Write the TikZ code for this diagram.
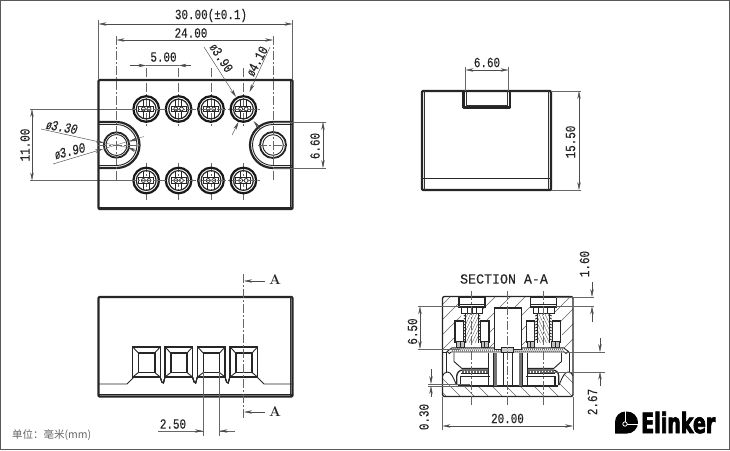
\documentclass[tikz,border=0pt]{standalone}
\usepackage{fontspec}
\usetikzlibrary{arrows.meta}
\newfontfamily\dimfont[FakeStretch=0.78,FakeBold=0.3]{Liberation Mono}
\newfontfamily\titlefont[FakeStretch=0.95,FakeBold=0.3]{Liberation Mono}
\newfontfamily\cjkfont{Noto Sans CJK SC}
\newfontfamily\logofont[FakeStretch=0.68,FakeBold=2.5]{DejaVu Sans Bold}
\newcommand{\dia}{{\fontsize{10.5}{10.5}\selectfont Ø}}
\tikzset{
  every node/.style={font=\dimfont\fontsize{14}{14}\selectfont, inner sep=0pt, text=black!85},
  outline/.style={line width=2.2pt, black!85, line join=round},
  edgeline/.style={line width=0.9pt, black!85},
  extline/.style={line width=0.4pt, black!60},
  axisline/.style={line width=0.4pt, black!60, dash pattern=on 9pt off 2pt on 2pt off 2pt},
  dimline/.style={line width=0.45pt, black!70, {Stealth[length=8pt,width=3.4pt]}-{Stealth[length=8pt,width=3.4pt]}},
  leaderline/.style={line width=0.45pt, black!70, -{Stealth[length=8pt,width=3.4pt]}},
  hatchline/.style={line width=0.4pt, black!60},
  slanted/.style={font=\dimfont\itshape\fontsize{14}{14}\selectfont},
}
\newcommand{\screwhead}[2]{%
  \draw[line width=2.2pt, black!90] (#1,#2) circle (12.8);
  \draw[line width=1.2pt, black!85] (#1,#2) circle (9.9);
  \draw[edgeline] (#1-3.2,#2-9.8) -- (#1-3.2,#2+9.8) (#1+3.2,#2-9.8) -- (#1+3.2,#2+9.8);
  \draw[edgeline, fill=white] (#1-7.5,#2-2.8) rectangle (#1+7.5,#2+2.8);
  \draw[line width=0.7pt, black!85, fill=white] (#1-2.8,#2) circle (2) (#1+2.8,#2) circle (2);
}
\newcommand{\pocket}[1]{%
  \draw[line width=1.1pt, black!85] (#1,347) -- ++(27.5,0) -- ++(0,30) -- ++(-27.5,0) -- cycle;
  \draw[line width=1.6pt, black!85] (#1+5.8,353) rectangle (#1+22,372.5);
  \draw[edgeline] (#1,347) -- ++(5.8,6) (#1+27.5,347) -- ++(-5.5,6)
    (#1,377) -- ++(5.8,-4.5) (#1+27.5,377) -- ++(-5.5,-4.5);
}
% left half of the section, the right half is its mirror
\newcommand{\sectionhalf}{%
  \fill[white] (442.5,350.5) -- (507.75,350.5) -- (507.75,386) -- (460,386) -- (456.5,385)
    .. controls (453,377) and (451,372) .. (447.5,372) .. controls (445,372) and (443,374) .. (442.5,376) -- cycle;
  \draw[edgeline] (456.5,385) .. controls (453,377) and (451,372) .. (447.5,372) .. controls (445,372) and (443,374) .. (442.5,376);
  \draw[edgeline] (446,352) -- (446,372);
  \draw[edgeline] (454,352.5) -- (454,361.5) -- (461.7,368.3) -- (488.3,368.3);
  % contact
  \draw[line width=1.3pt, black!85] (456.8,385) -- (456.8,376) arc (180:270:6) -- (488.3,370);
  \foreach \k in {462,463.5,...,488} \draw[hatchline] (\k,370.2) -- (\k,373.6);
  \draw[edgeline] (461,373.6) -- (488.3,373.6);
  \draw[line width=1.3pt, black!85] (460.5,385.5) -- (460.5,376.7) -- (490,376.7);
  \draw[outline] (458,386) -- (507.75,386);
  % posts
  \draw[edgeline] (488.3,353) -- (488.3,385);
  \fill[black!55] (493.3,353) rectangle (496.7,385.5);
  \draw[edgeline] (493.3,353) -- (493.3,385.5) (503.3,353) -- (503.3,385.5);
  % screw
  \fill[white] (461,313) rectangle (485,322);
  \fill[white] (454,321) rectangle (490,347);
  \draw[line width=1.3pt, black!85, fill=white] (459,297.3) rectangle (485,307);
  \draw[edgeline] (459,304.5) -- (485,304.5);
  \draw[edgeline, fill=white] (461.5,307) rectangle (482.5,313);
  \draw[edgeline] (467.7,307) -- (467.7,313) (472.3,307) -- (472.3,313) (476.7,307) -- (476.7,313);
  \draw[line width=1.1pt, black!85] (455,321) rectangle (463.3,342) (480.7,321) rectangle (489,342);
  \begin{scope}
    \clip (465.7,313) rectangle (478.3,343);
    \foreach \k in {448,451,...,490} \draw[hatchline] (\k,343) -- ++(14,-30);
  \end{scope}
  \draw[edgeline] (465.7,313) -- (465.7,343) (478.3,313) -- (478.3,343);
  \foreach \k in {316,319,...,341} \draw[edgeline] (463.8,\k) -- (465.7,\k-1) (478.3,\k-1) -- (480.2,\k);
  \draw[line width=0.9pt, black!85, fill=black!25] (456.5,341) rectangle (464,347) (481,341) rectangle (488.5,347);
  \draw[edgeline] (460.2,341) -- (460.2,347) (484.7,341) -- (484.7,347);
  % spring plate
  \draw[edgeline, fill=white] (447,351.5) -- (452,347.8) -- (502,347.8) -- (502,352) -- (451,352) -- (449.5,353.5) -- cycle;
  \foreach \k in {452,454,...,500} \draw[line width=0.5pt, black!70] (\k,351.8) -- (\k+1.5,348);
}
\begin{document}
\begin{tikzpicture}[x=1pt, y=-1pt]
  \useasboundingbox (0,0) rectangle (730,450);
  \fill[white] (0,0) rectangle (730,450);
  \draw[line width=1.6pt, black!65] (0.6,0.6) rectangle (729.4,449.4);

  % top view
  \foreach \x in {146.2,178.6,211,243.4} {
    \draw[axisline] (\x,68) -- (\x,126);
    \draw[axisline] (\x,163) -- (\x,200);
    \screwhead{\x}{109}
    \screwhead{\x}{180.5}
  }
  \draw[extline] (30,109) -- (127,109) (30,180.5) -- (127,180.5);
  \draw[axisline] (127,109) -- (260,109) (127,180.5) -- (260,180.5);
  \draw[outline, rounded corners=1pt] (98.5,80) rectangle (292.5,209);
  \draw[edgeline] (290.3,80) -- (290.3,209) (98.5,207.5) -- (292.5,207.5);
  \draw[outline] (98.5,122) -- (116.5,122) arc (-90:90:23) -- (98.5,168);
  \draw[edgeline] (98.5,124.5) -- (116.5,124.5) arc (-90:90:20.5) -- (98.5,165.5);
  \draw[outline] (292.5,122) -- (273,122) arc (-90:-270:23) -- (292.5,168);
  \draw[edgeline] (292.5,124.5) -- (273,124.5) arc (-90:-270:20.5) -- (292.5,165.5);
  \draw[line width=1.8pt, black!85] (116.5,145) circle (12.7);
  \draw[edgeline] (116.5,145) circle (10.5);
  \draw[line width=1.8pt, black!85] (273,145) circle (13);
  \draw[edgeline] (273,145) circle (10.3);
  \draw[axisline] (116.5,36) -- (116.5,180) (273,36) -- (273,180);
  \draw[axisline] (98,145) -- (142,145) (258,145) -- (288,145);

  % top view dimensions
  \draw[extline] (98.5,20) -- (98.5,80) (292.5,20) -- (292.5,80);
  \draw[dimline] (98.5,24) -- (292.5,24);
  \node (dimwidth) at (211,15.5) {30.00(±0.1)};
  \draw[dimline] (116.5,40) -- (273,40);
  \node (dimholes) at (191,33) {24.00};
  \draw[leaderline] (130,65.5) -- (146.2,65.5);
  \draw[leaderline] (191,65.5) -- (178.6,65.5);
  \draw[extline] (146.2,65.5) -- (178.6,65.5);
  \node (dimpitch) at (163.5,57) {5.00};
  \draw[leaderline] (204,47) -- (236,97);
  \node[rotate=-57] (dimscrewa) at (221.5,58) {\dia3.90};
  \draw[leaderline] (270,47) -- (249.5,92);
  \node[rotate=62] (dimscrewb) at (257,61) {\dia4.10};
  \draw[leaderline] (232,135) -- (238.5,122);
  \draw[leaderline] (260,129) -- (253.5,121);
  \draw[dimline] (32,109) -- (32,180.5);
  \node[rotate=90] (dimrows) at (25,145) {11.00};
  \draw[leaderline] (41,129) -- (104,143);
  \draw[extline] (104,143) -- (133,148.5);
  \draw[leaderline] (136,151) -- (128,147.5);
  \node[rotate=-10, slanted] (dimborea) at (62,127) {\dia3.30};
  \draw[leaderline] (53,164) -- (103,149);
  \draw[extline] (103,149) -- (144,136.5);
  \draw[leaderline] (137,139) -- (129,141.5);
  \node[rotate=14, slanted] (dimboreb) at (70,151) {\dia3.90};
  \draw[extline] (273,122) -- (326,122) (273,168) -- (326,168);
  \draw[dimline] (323,122) -- (323,168);
  \node[rotate=90] (dimbay) at (315,146) {6.60};

  % side view
  \draw[outline, rounded corners=1pt] (422,91) rectangle (551,190);
  \draw[edgeline] (422,178) -- (551,178);
  \draw[line width=0.6pt, black!80] (424.3,91) -- (424.3,190) (548.7,91) -- (548.7,190);
  \draw[outline] (463.5,91) -- (463.5,107.5) -- (510,107.5) -- (510,91);
  \draw[line width=0.6pt, black!80] (466,91) -- (466,105) -- (507.5,105) -- (507.5,91);
  \draw[extline] (465.5,67) -- (465.5,91) (508.5,67) -- (508.5,91);
  \draw[dimline] (465.5,70) -- (508.5,70);
  \node (dimslot) at (487,62.5) {6.60};
  \draw[extline] (551,91) -- (581,91) (551,190) -- (581,190);
  \draw[dimline] (579,91) -- (579,190);
  \node[rotate=90] (dimheight) at (570.5,142) {15.50};

  % front view
  \draw[outline, rounded corners=1pt] (98.5,297) rectangle (292.5,396.5);
  \draw[line width=0.6pt, black!80] (290.5,297) -- (290.5,396.5);
  \draw[line width=1.4pt, black!85] (98.5,394.5) -- (292.5,394.5);
  \draw[edgeline] (98.5,384) -- (127,384) -- (134,377) (257,377) -- (264,384) -- (292.5,384);
  \foreach \x in {132.7,165,197.5,230} \pocket{\x}
  \foreach \x in {160.2,192.5,225} \draw[edgeline] (\x,377) -- (\x+1.6,382) -- (\x+3.2,383) -- (\x+4.8,377);
  \draw[axisline] (243.5,274) -- (243.5,420);
  \draw[leaderline] (265,281) -- (244,281);
  \node[font=\bfseries\fontsize{14}{14}\selectfont] (cuttop) at (275,280) {A};
  \draw[leaderline] (265,412) -- (244,412);
  \node[font=\bfseries\fontsize{14}{14}\selectfont] (cutbottom) at (275,412) {A};
  \draw[extline] (203,372) -- (203,436) (219.5,372) -- (219.5,436);
  \draw[extline] (158,431) -- (203,431) (219.5,431) -- (235,431);
  \draw[leaderline] (195,431) -- (203,431);
  \draw[leaderline] (227.5,431) -- (219.5,431);
  \node (dimpocket) at (173,424) {2.50};

  % section A-A
  \begin{scope}
    \clip[rounded corners=2pt] (442.5,296.5) rectangle (573,396.5);
    \foreach \h in {380,395,...,600} \draw[hatchline] (\h,352) -- ++(58,-58);
    \foreach \h in {420,434,...,590} \draw[hatchline] (\h,370) -- ++(30,30);
  \end{scope}
  \sectionhalf
  \begin{scope}[xshift=1015.5pt, xscale=-1]
    \sectionhalf
  \end{scope}
  \draw[line width=1.2pt, black!85, fill=white] (494.3,308) rectangle (521.2,349.5);
  \draw[edgeline, fill=black!20] (501.7,347.8) rectangle (513.8,352);
  \draw[edgeline] (442.5,352) -- (446,352) (569.5,352) -- (573,352);
  \draw[line width=1.3pt, black!85, rounded corners=2pt] (442.5,296.5) rectangle (573,396.5);
  \foreach \x in {471.5,507.5,543.5} \draw[axisline] (\x,291) -- (\x,405);

  % section dimensions
  \node[font=\titlefont\fontsize{14}{14}\selectfont] (sectiontitle) at (504,279) {SECTION A-A};
  \draw[extline] (556,297) -- (594,297) (556,306.3) -- (594,306.3);
  \draw[leaderline] (592,282) -- (592,297);
  \draw[leaderline] (592,322) -- (592,306.3);
  \node[rotate=90] (dimhead) at (584.5,264) {1.60};
  \draw[extline] (418,306.3) -- (460,306.3) (418,349) -- (460,349);
  \draw[dimline] (420,306.3) -- (420,349);
  \node[rotate=90] (dimscrew) at (412.5,331.5) {6.50};
  \draw[extline] (566,352) -- (605,352) (540,371.7) -- (605,371.7);
  \draw[leaderline] (600,338) -- (600,352);
  \draw[leaderline] (600,386) -- (600,371.7);
  \node[rotate=90] (dimcontact) at (592.5,402) {2.67};
  \draw[extline] (428,384) -- (470,384) (428,386) -- (470,386);
  \draw[leaderline] (431,369) -- (431,384);
  \draw[leaderline] (431,397) -- (431,386);
  \node[rotate=90] (dimgap) at (424,417) {0.30};
  \draw[extline] (442.5,396.5) -- (442.5,430) (573,396.5) -- (573,430);
  \draw[dimline] (442.5,426) -- (573,426);
  \node (dimbody) at (507.5,418.5) {20.00};

  % unit and logo
  \node[anchor=west, font=\cjkfont\fontsize{10.5}{11}\selectfont, text=black!60] (unitnote) at (12,435.5) {单位：毫米(mm)};
  \fill[black] (615,433.5) -- (615,422) arc (180:270:10.5) -- (627,411.5) arc (-90:90:11) -- cycle;
  \draw[white, line width=0.7pt] (625,424) -- (625,411) (625,424) -- (639,424);
  \draw[white, line width=0.8pt, fill=black] (625,424) circle (2.2);
  \node[anchor=base west, font=\logofont\fontsize{28}{28}\selectfont, text=black] (logotext) at (641,433) {Elinker};
\end{tikzpicture}
\end{document}
